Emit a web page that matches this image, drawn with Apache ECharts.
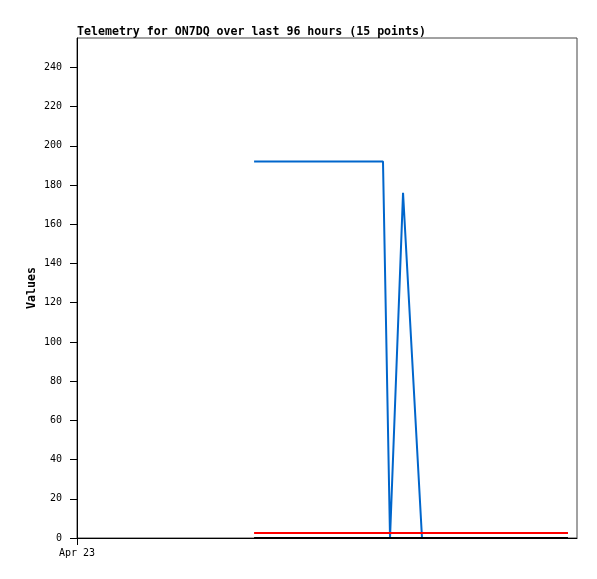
<!DOCTYPE html>
<html>
<head>
<meta charset="utf-8">
<script src="https://cdn.jsdelivr.net/npm/echarts@6/dist/echarts.min.js"></script>
<style>html,body{margin:0;padding:0;background:#fff;}#c{width:597px;height:579px;}</style>
</head>
<body>
<div id="c"></div>
<script>
// hours since Apr 23 00:00
const times = [34.0, 40.0, 46.0, 52.0, 58.75, 60.1, 62.6, 66.24, 70.0, 74.0, 78.0, 82.0, 86.0, 90.0, 94.27];
const blueValues  = [192, 192, 192, 192, 192, 0, 176, 0, 0, 0, 0, 0, 0, 0, 0];
const redValues   = [2.5, 2.5, 2.5, 2.5, 2.5, 2.5, 2.5, 2.5, 2.5, 2.5, 2.5, 2.5, 2.5, 2.5, 2.5];
const blackValues = [0, 0, 0, 0, 0, 0, 0, 0, 0, 0, 0, 0, 0, 0, 0];
const yTicks = [0, 20, 40, 60, 80, 100, 120, 140, 160, 180, 200, 220, 240];
const xTicks = [0];
const xTickLabels = ['Apr 23'];
const titleText = 'Telemetry for ON7DQ over last 96 hours (15 points)';

const pair = (vals) => times.map((t, i) => [t, vals[i]]);
const chart = echarts.init(document.getElementById('c'));
chart.setOption({
  animation: false,
  backgroundColor: '#fff',
  title: {
    text: titleText, left: 77, top: 26, padding: 0,
    textStyle: {fontFamily: 'DejaVu Sans Mono', fontWeight: 'bold', fontSize: 11.6, color: '#000'}
  },
  grid: {left: 77, top: 38, right: 20, bottom: 41, show: true, borderColor: '#444', borderWidth: 1, backgroundColor: '#fff'},
  xAxis: {
    type: 'value', min: 0, max: 96,
    splitLine: {show: false},
    axisLine: {show: true, lineStyle: {color: '#000', width: 1}},
    axisTick: {show: true, length: 7, customValues: xTicks, lineStyle: {color: '#000'}},
    axisLabel: {customValues: xTicks, formatter: (v) => xTickLabels[xTicks.indexOf(v)] || '',
      fontFamily: 'DejaVu Sans Mono', fontSize: 10, color: '#000', margin: 10}
  },
  yAxis: {
    type: 'value', min: 0, max: 255,
    name: 'Values', nameLocation: 'middle', nameGap: 39, nameRotate: 90, nameMoveOverlap: false,
    nameTextStyle: {fontFamily: 'DejaVu Sans Mono', fontWeight: 'bold', fontSize: 11.6, color: '#000'},
    splitLine: {show: false},
    axisLine: {show: true, lineStyle: {color: '#000', width: 1}},
    axisTick: {show: true, length: 7, customValues: yTicks, lineStyle: {color: '#000'}},
    axisLabel: {customValues: yTicks, fontFamily: 'DejaVu Sans Mono', fontSize: 10, color: '#000', margin: 15}
  },
  series: [
    {type: 'line', data: pair(blueValues), symbol: 'none', lineStyle: {color: '#0066cc', width: 2}, z: 2},
    {type: 'line', data: pair(redValues), symbol: 'none', lineStyle: {color: '#ff0000', width: 2}, z: 3},
    {type: 'line', data: pair(blackValues), symbol: 'none', lineStyle: {color: '#000000', width: 2}, z: 4}
  ]
});
</script>
</body>
</html>
